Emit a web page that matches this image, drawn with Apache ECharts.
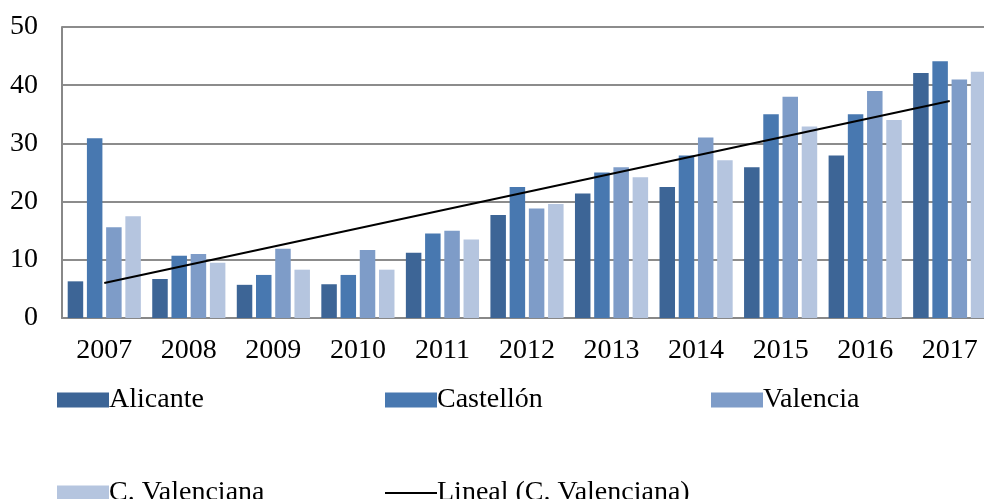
<!DOCTYPE html>
<html>
<head>
<meta charset="utf-8">
<script src="https://cdn.jsdelivr.net/npm/echarts@6/dist/echarts.min.js"></script>
<style>
  html, body { margin: 0; padding: 0; background: #fff; }
  #chart { width: 984px; height: 499px; }
</style>
</head>
<body>
<div id="chart"></div>
<script>
// datos
var years = ["2007", "2008", "2009", "2010", "2011", "2012", "2013", "2014", "2015", "2016", "2017"];
var alicante = [6.3, 6.7, 5.7, 5.8, 11.2, 17.7, 21.4, 22.5, 25.9, 27.9, 42.1];
var castellon = [30.9, 10.7, 7.4, 7.4, 14.5, 22.5, 25.0, 27.9, 35.0, 35.0, 44.1];
var valencia = [15.6, 11.0, 11.9, 11.7, 15.0, 18.8, 25.9, 31.0, 38.0, 39.0, 41.0];
var cValenciana = [17.5, 9.5, 8.3, 8.3, 13.5, 19.6, 24.2, 27.1, 32.9, 34.0, 42.3];
// extremos de la linea de tendencia (leidos)
var trendStart = 6.0;
var trendEnd = 37.3;
var yTicks = [0, 10, 20, 30, 40, 50];

var trend = years.map(function (y, i) {
  if (i === 0) return trendStart;
  if (i === years.length - 1) return trendEnd;
  return null;
});

var font = "'Liberation Serif', 'Times New Roman', serif";
var colors = ["#3d6596", "#4878b0", "#7e9cc8", "#b5c5df"];

function legendAt(name, left, top, icon, h) {
  return {
    data: [{ name: name, icon: icon }],
    left: left,
    top: top,
    itemWidth: 52,
    itemHeight: h,
    itemGap: 0,
    textStyle: { fontFamily: font, fontSize: 28, color: "#000", padding: [0, 0, 0, -5] }
  };
}

var myChart = echarts.init(document.getElementById("chart"));
var option = {
  animation: false,
  color: colors,
  grid: { left: 62, top: 27, width: 930, bottom: 181, containLabel: false, outerBoundsMode: "none" },
  legend: [
    legendAt("Alicante", 52, 381, "rect", 15),
    legendAt("Castellón", 380, 381, "rect", 15),
    legendAt("Valencia", 706, 381, "rect", 15),
    legendAt("C. Valenciana", 52, 474, "rect", 15),
    legendAt("Lineal (C. Valenciana)", 380, 474, "rect", 2)
  ],
  xAxis: {
    type: "category",
    data: years,
    axisLine: { lineStyle: { color: "#888", width: 2 } },
    axisTick: { show: false },
    axisLabel: { fontFamily: font, fontSize: 28, color: "#000", margin: 19 }
  },
  yAxis: {
    type: "value",
    min: yTicks[0],
    max: yTicks[yTicks.length - 1],
    interval: 10,
    axisLine: { show: true, lineStyle: { color: "#888", width: 2 } },
    axisTick: { show: false },
    splitLine: { lineStyle: { color: "#8c8c8c", width: 2 } },
    axisLabel: { fontFamily: font, fontSize: 28, color: "#000", margin: 24 }
  },
  series: [
    { name: "Alicante", type: "bar", data: alicante, barWidth: 15.5, barGap: "24%" },
    { name: "Castellón", type: "bar", data: castellon, barWidth: 15.5, barGap: "24%" },
    { name: "Valencia", type: "bar", data: valencia, barWidth: 15.5, barGap: "24%" },
    { name: "C. Valenciana", type: "bar", data: cValenciana, barWidth: 15.5, barGap: "24%" },
    {
      name: "Lineal (C. Valenciana)",
      type: "line",
      data: trend,
      connectNulls: true,
      symbol: "none",
      color: "#000",
      lineStyle: { color: "#000", width: 2 },
      z: 5
    }
  ]
};
myChart.setOption(option);
</script>
</body>
</html>
